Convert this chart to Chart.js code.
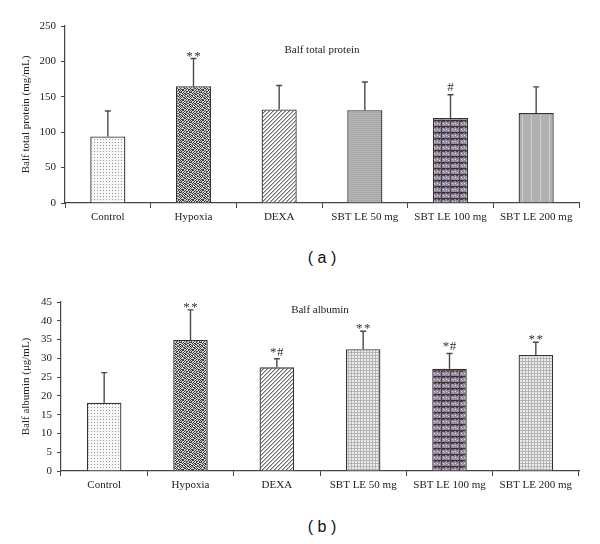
<!DOCTYPE html>
<html>
<head>
<meta charset="utf-8">
<script src="https://cdn.jsdelivr.net/npm/chart.js@4.4.1/dist/chart.umd.min.js"></script>
<style>
  html, body { margin: 0; padding: 0; background: #fff; }
  body { width: 600px; height: 544px; position: relative; overflow: hidden; }
  .wrap { position: absolute; left: 0; width: 600px; }
  #w1 { top: 0; height: 240px; }
  #w2 { top: 280px; height: 230px; }
  .cap { position: absolute; left: 0; width: 644px; text-align: center; font-family: "Liberation Sans", Arial, sans-serif; font-size: 16px; color: #111; }
  #capA { top: 249px; }
  #capB { top: 518px; }
</style>
</head>
<body>
<div class="wrap" id="w1"><canvas id="c1" width="600" height="240"></canvas></div>
<div class="cap" id="capA">( a )</div>
<div class="wrap" id="w2"><canvas id="c2" width="600" height="230"></canvas></div>
<div class="cap" id="capB">( b )</div>
<script>
// ---------- data ----------
const categories = ['Control', 'Hypoxia', 'DEXA', 'SBT LE 50 mg', 'SBT LE 100 mg', 'SBT LE 200 mg'];

const proteinMeans = [94, 165, 132, 131, 120, 127];
const proteinSD    = [36, 39, 34, 40, 33, 37];
const proteinMarks = ['', '**', '', '', '#', ''];
const proteinTicks = [0, 50, 100, 150, 200, 250];

const albuminMeans = [18.2, 34.9, 27.6, 32.4, 27.2, 30.9];
const albuminSD    = [8.0, 8.0, 2.3, 4.8, 4.1, 3.4];
const albuminMarks = ['', '**', '*#', '**', '*#', '**'];
const albuminTicks = [0, 5, 10, 15, 20, 25, 30, 35, 40, 45];

// ---------- fill patterns ----------
function makePattern(w, h, draw) {
  const c = document.createElement('canvas');
  c.width = w; c.height = h;
  const g = c.getContext('2d');
  draw(g);
  return g.createPattern(c, 'repeat');
}
function px(g, x, y, col) { g.fillStyle = col; g.fillRect(x, y, 1, 1); }

const patControl = makePattern(3, 3, g => {
  g.fillStyle = '#f7f7f7'; g.fillRect(0, 0, 3, 3);
  px(g, 1, 1, '#9a9a9a');
});
const hypoMask = [
  '1011010010',
  '0100101101',
  '1101001001',
  '0010110110',
  '1001011001',
  '0110100101',
  '1010010110',
  '0101101001',
  '1000110100',
  '0111001011'
];
const patHypoxia = makePattern(10, 10, g => {
  for (let y = 0; y < 10; y++) for (let x = 0; x < 10; x++) {
    px(g, x, y, hypoMask[y][x] === '1' ? '#3a3a3a' : '#d8d8d8');
  }
});
const patDexa = makePattern(4, 4, g => {
  g.fillStyle = '#ffffff'; g.fillRect(0, 0, 4, 4);
  for (let i = 0; i < 4; i++) {
    px(g, 3 - i, i, '#6e6e6e');
    px(g, (4 - i) % 4, i, '#b8b8b8');
  }
});
const patHLines = makePattern(2, 2, g => {
  g.fillStyle = '#a6a6a6'; g.fillRect(0, 0, 2, 1);
  g.fillStyle = '#b6b6b6'; g.fillRect(0, 1, 2, 1);
});
const patVLines = makePattern(9, 2, g => {
  g.fillStyle = '#b0b0b0'; g.fillRect(0, 0, 9, 2);
  g.fillStyle = '#cdcdcd'; g.fillRect(0, 0, 1, 2);
});
const patMixed = makePattern(9, 6, g => {
  g.fillStyle = '#8e8a9c'; g.fillRect(0, 0, 9, 6);
  g.fillStyle = '#3a3040'; g.fillRect(0, 0, 9, 1);
  g.fillStyle = '#6e3434'; g.fillRect(1, 1, 3, 1); g.fillRect(6, 1, 2, 1);
  g.fillStyle = '#4a4458'; g.fillRect(0, 0, 1, 6);
  px(g, 2, 3, '#dcdce8'); px(g, 5, 3, '#e4e4ee'); px(g, 7, 4, '#d0d0e0'); px(g, 3, 4, '#b8b4c8');
});
const patGrid = makePattern(3, 3, g => {
  g.fillStyle = '#ececec'; g.fillRect(0, 0, 3, 3);
  g.fillStyle = '#b4b4b4'; g.fillRect(0, 0, 3, 1); g.fillRect(0, 0, 1, 3);
});

const fillsA = [patControl, patHypoxia, patDexa, patHLines, patMixed, patVLines];
const fillsB = [patControl, patHypoxia, patDexa, patGrid, patMixed, patGrid];

// ---------- plugins ----------
const serif = '"Liberation Serif", "DejaVu Serif", serif';

const errorBarPlugin = {
  id: 'errorBars',
  afterDatasetsDraw(chart, args, opts) {
    const ctx = chart.ctx;
    const ys = chart.scales.y;
    const meta = chart.getDatasetMeta(0);
    const ds = chart.data.datasets[0];
    ctx.save();
    meta.data.forEach((bar, i) => {
      const top = ys.getPixelForValue(ds.data[i] + opts.sd[i]);
      ctx.strokeStyle = '#4a4a4a';
      ctx.lineWidth = 1.4;
      ctx.beginPath();
      ctx.moveTo(bar.x, bar.y);
      ctx.lineTo(bar.x, top);
      ctx.moveTo(bar.x - 3, top);
      ctx.lineTo(bar.x + 3, top);
      ctx.stroke();
      const m = opts.marks[i];
      if (m) {
        ctx.fillStyle = '#333';
        ctx.font = '13px ' + serif;
        ctx.textAlign = 'center';
        ctx.textBaseline = 'alphabetic';
        const chars = m.split('');
        const gap = m === '**' ? 8 : 7;
        const base = m === '**' ? top + 1 : (m === '#' ? top - 4 : top - 3);
        chars.forEach((ch, k) => {
          const x = bar.x + (k - (chars.length - 1) / 2) * gap;
          ctx.fillText(ch, x, base);
        });
      }
    });
    ctx.restore();
  }
};
const innerTitlePlugin = {
  id: 'innerTitle',
  afterDraw(chart, args, opts) {
    const ctx = chart.ctx;
    const a = chart.chartArea;
    ctx.save();
    ctx.fillStyle = '#222';
    ctx.font = '11px ' + serif;
    ctx.textAlign = 'center';
    ctx.textBaseline = 'middle';
    ctx.fillText(opts.text, (a.left + a.right) / 2, a.top + opts.offset);
    ctx.restore();
  }
};

function makeChart(id, means, sd, marks, ticks, fills, yTitle, innerTitle, titleOffset, pad, yWidth, xHeight, barPct) {
  return new Chart(document.getElementById(id), {
    type: 'bar',
    data: {
      labels: categories,
      datasets: [{
        data: means,
        backgroundColor: fills,
        borderColor: '#333',
        borderWidth: 1.3,
        borderSkipped: 'bottom',
        categoryPercentage: 1,
        barPercentage: barPct
      }]
    },
    options: {
      responsive: false,
      animation: false,
      events: [],
      layout: { padding: pad },
      plugins: {
        legend: { display: false },
        tooltip: { enabled: false },
        errorBars: { sd: sd, marks: marks },
        innerTitle: { text: innerTitle, offset: titleOffset }
      },
      scales: {
        x: {
          grid: { display: true, offset: true, drawOnChartArea: false, drawTicks: true, tickLength: 5, color: '#444', lineWidth: 1 },
          border: { display: true, color: '#444', width: 1.2 },
          ticks: { color: '#222', font: { family: serif, size: 11 }, padding: 3, maxRotation: 0, autoSkip: false },
          afterFit(s) { s.height = xHeight; }
        },
        y: {
          min: ticks[0],
          max: ticks[ticks.length - 1],
          afterBuildTicks(s) { s.ticks = ticks.map(v => ({ value: v })); },
          grid: { display: true, drawOnChartArea: false, drawTicks: true, tickLength: 4, color: '#444', lineWidth: 1 },
          border: { display: true, color: '#444', width: 1.2 },
          ticks: { color: '#222', font: { family: serif, size: 11 }, padding: 5 },
          title: { display: true, text: yTitle, color: '#222', font: { family: serif, size: 11 }, padding: { top: 20, bottom: 0 } },
          afterFit(s) { s.width = yWidth; }
        }
      }
    },
    plugins: [errorBarPlugin, innerTitlePlugin]
  });
}

makeChart('c1', proteinMeans, proteinSD, proteinMarks, proteinTicks, fillsA,
  'Balf total protein (mg/mL)', 'Balf total protein', 24,
  { top: 26, right: 21, left: 0, bottom: 0 }, 65, 37, 0.41);

makeChart('c2', albuminMeans, albuminSD, albuminMarks, albuminTicks, fillsB,
  'Balf albumin (\u03bcg/mL)', 'Balf albumin', 8,
  { top: 22, right: 21, left: 0, bottom: 0 }, 61, 39, 0.40);
</script>
</body>
</html>
